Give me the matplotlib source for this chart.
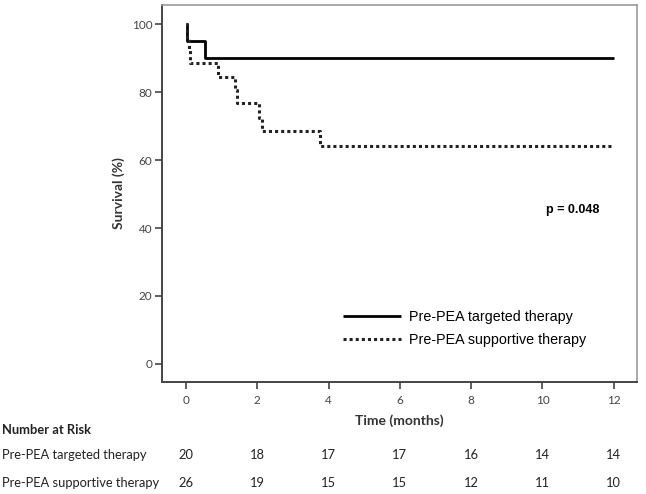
import matplotlib.pyplot as plt
import matplotlib.transforms as mtransforms

# Kaplan-Meier step data
targeted_t = [0, 0.04, 0.53, 12]
targeted_s = [100, 95, 90, 90]

supportive_t = [0, 0.04, 0.08, 0.12, 0.9, 1.38, 1.42, 2.05, 2.14, 3.75, 12]
supportive_s = [100, 96.2, 92.3, 88.5, 84.5, 80.7, 76.8, 72.4, 68.5, 64.1, 64.1]

risk_times = [0, 2, 4, 6, 8, 10, 12]
risk_targeted = [20, 18, 17, 17, 16, 14, 14]
risk_supportive = [26, 19, 15, 15, 12, 11, 10]

group_names = ["Pre-PEA targeted therapy", "Pre-PEA supportive therapy"]

fig = plt.figure(figsize=(6.46, 4.94), dpi=100)
ax = fig.add_axes([0.2508, 0.2267, 0.7352, 0.7632])

ax.plot(targeted_t, targeted_s, drawstyle="steps-post", color="black",
        lw=2.0, solid_capstyle="butt", label=group_names[0])
ax.plot(supportive_t, supportive_s, drawstyle="steps-post", color="#222222",
        lw=2.2, linestyle=(0, (1, 1)), label=group_names[1])

ax.set_xlim(-0.67, 12.65)
ax.set_ylim(-5.3, 105.6)
ax.set_xticks(risk_times)
ax.set_yticks([0, 20, 40, 60, 80, 100])

for s in ["top", "right"]:
    ax.spines[s].set_color("#999999")
    ax.spines[s].set_linewidth(1.2)
for s in ["left", "bottom"]:
    ax.spines[s].set_color("#444444")
    ax.spines[s].set_linewidth(1.4)

ax.tick_params(axis="both", direction="out", length=5, width=1.2,
               color="#444444", labelsize=8.5, labelcolor="#444444")
ax.tick_params(axis="x", pad=4)
ax.tick_params(axis="y", pad=2)
for lbl in ax.get_xticklabels() + ax.get_yticklabels():
    lbl.set_family("Lato")

ax.set_ylabel("Survival (%)", fontsize=10, fontweight="bold",
              family="Lato", labelpad=5, color="#333333")
ax.set_xlabel("Time (months)", fontsize=10, fontweight="bold",
              family="Lato", labelpad=6, color="#333333")

leg = ax.legend(loc="upper left", bbox_to_anchor=(0.355, 0.225), frameon=False,
                prop={"family": "Liberation Sans", "size": 10.3},
                handlelength=4.0, handletextpad=0.55, labelspacing=0.65)

ax.text(0.92, 0.456, "p = 0.048", transform=ax.transAxes, fontsize=9,
        fontweight="bold", family="Liberation Sans", ha="right", va="center")

# number at risk table
trans = mtransforms.blended_transform_factory(ax.transData, fig.transFigure)
fig.text(0.003, 1 - 430 / 494, "Number at Risk", fontsize=9.3,
         fontweight="bold", family="Lato", va="center", color="#222222")
rows = [risk_targeted, risk_supportive]
row_y = [1 - 455 / 494, 1 - 483 / 494]
for name, vals, y in zip(group_names, rows, row_y):
    fig.text(0.003, y, name, fontsize=9.3, family="Lato", va="center",
             color="#222222")
    for t, v in zip(risk_times, vals):
        ax.text(t, y, str(v), transform=trans, fontsize=9.3, family="Lato",
                ha="center", va="center", color="#222222", clip_on=False)

fig.savefig("out.png", dpi=100)
